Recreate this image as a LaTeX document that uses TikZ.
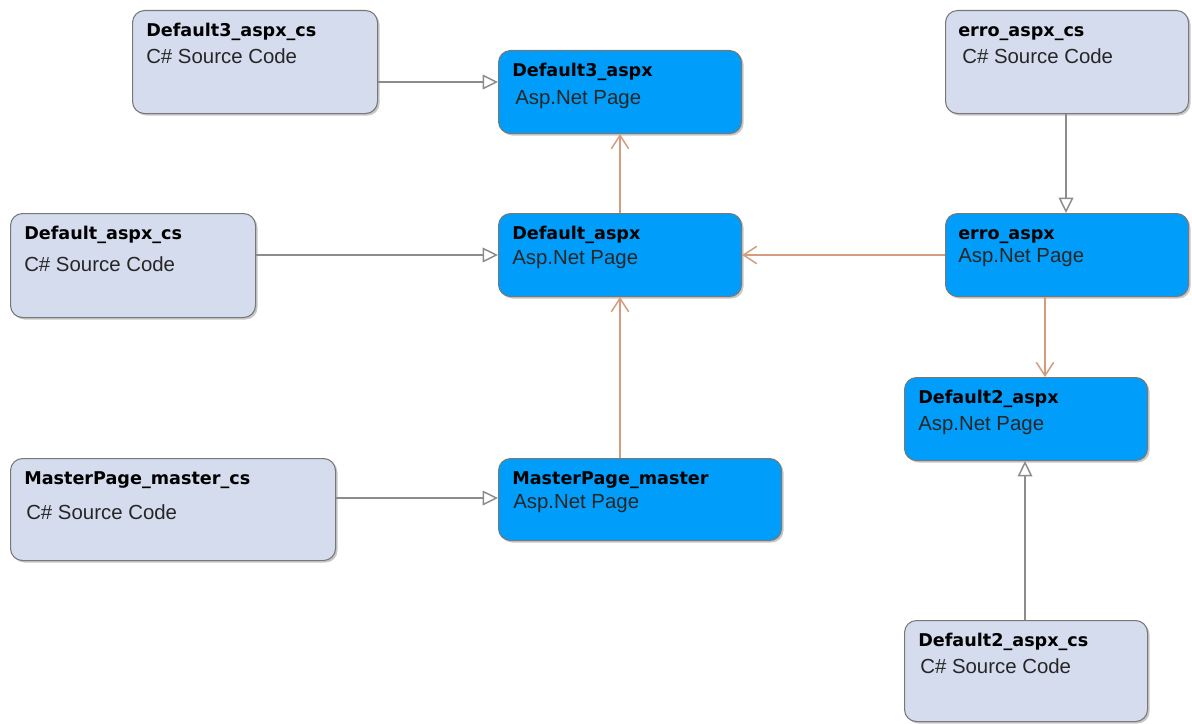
\documentclass[tikz,border=0pt]{standalone}
\usepackage{fontspec}
\setmainfont{Liberation Sans}
\newfontfamily\titlefont{DejaVu Sans}
\usetikzlibrary{arrows.meta,shadows,calc}
\definecolor{srcfill}{RGB}{212,220,238}
\definecolor{pagefill}{RGB}{0,158,250}
\definecolor{boxborder}{RGB}{120,120,120}
\definecolor{genline}{RGB}{140,140,140}
\definecolor{deplne}{RGB}{212,155,125}
\begin{document}
\begin{tikzpicture}[x=0.75pt,y=-0.75pt,
  box/.style={rounded corners=9pt, draw=boxborder, line width=0.8pt, inner sep=0pt, anchor=north west,
    drop shadow={shadow xshift=1.5pt, shadow yshift=-1.5pt, fill=black, opacity=0.22}},
  srcbox/.style={box, fill=srcfill},
  pagebox/.style={box, fill=pagefill},
  ttl/.style={anchor=base west, inner sep=0pt, font=\titlefont\bfseries\fontsize{13.2pt}{15pt}\selectfont, text=black},
  sub/.style={anchor=base west, inner sep=0pt, font=\fontsize{15.3pt}{18pt}\selectfont, text=black!85},
  gen/.style={draw=genline, line width=1.1pt, -{Triangle[open, length=11.5pt, width=11pt, fill=white]}},
  dep/.style={draw=deplne, line width=1.1pt, -{Straight Barb[length=10pt, width=13pt]}}
]
\fill[white] (0,0) rectangle (1192,724);
\useasboundingbox (0,0) rectangle (1192,724);

% source code boxes
\node[srcbox, minimum width=183.75pt, minimum height=77.25pt] (d3cs) at (132,10) {};
\node[ttl] (d3cst) at ($(d3cs.north west)+(14,27)$) {Default3\_aspx\_cs};
\node[sub] (d3css) at ($(d3cs.north west)+(14,54)$) {C\# Source Code};

\node[srcbox, minimum width=182.25pt, minimum height=77.25pt] (ecs) at (945,10) {};
\node[ttl] (ecst) at ($(ecs.north west)+(13,27)$) {erro\_aspx\_cs};
\node[sub] (ecss) at ($(ecs.north west)+(17,54)$) {C\# Source Code};

\node[srcbox, minimum width=183.75pt, minimum height=78pt] (dcs) at (10,213) {};
\node[ttl] (dcst) at ($(dcs.north west)+(14,26)$) {Default\_aspx\_cs};
\node[sub] (dcss) at ($(dcs.north west)+(14,58)$) {C\# Source Code};

\node[srcbox, minimum width=243.75pt, minimum height=76.5pt] (mcs) at (10,458) {};
\node[ttl] (mcst) at ($(mcs.north west)+(14,26)$) {MasterPage\_master\_cs};
\node[sub] (mcss) at ($(mcs.north west)+(16,61)$) {C\# Source Code};

\node[srcbox, minimum width=182.25pt, minimum height=75.75pt] (d2cs) at (904,620) {};
\node[ttl] (d2cst) at ($(d2cs.north west)+(14,26)$) {Default2\_aspx\_cs};
\node[sub] (d2css) at ($(d2cs.north west)+(16,53)$) {C\# Source Code};

% asp.net page boxes
\node[pagebox, minimum width=182.25pt, minimum height=62.25pt] (d3) at (498,50) {};
\node[ttl] (d3t) at ($(d3.north west)+(14,27)$) {Default3\_aspx};
\node[sub] (d3s) at ($(d3.north west)+(17,54)$) {Asp.Net Page};

\node[pagebox, minimum width=182.25pt, minimum height=62.25pt] (d) at (498,213) {};
\node[ttl] (dt) at ($(d.north west)+(14,26)$) {Default\_aspx};
\node[sub] (ds) at ($(d.north west)+(14,51)$) {Asp.Net Page};

\node[pagebox, minimum width=182.25pt, minimum height=62.25pt] (e) at (945,213) {};
\node[ttl] (et) at ($(e.north west)+(13,26)$) {erro\_aspx};
\node[sub] (es) at ($(e.north west)+(13,49)$) {Asp.Net Page};

\node[pagebox, minimum width=182.25pt, minimum height=62.25pt] (d2) at (904,377) {};
\node[ttl] (d2t) at ($(d2.north west)+(14,26)$) {Default2\_aspx};
\node[sub] (d2s) at ($(d2.north west)+(14,53)$) {Asp.Net Page};

\node[pagebox, minimum width=212.25pt, minimum height=61.5pt] (m) at (498,458) {};
\node[ttl] (mt) at ($(m.north west)+(14,26)$) {MasterPage\_master};
\node[sub] (ms) at ($(m.north west)+(15,50)$) {Asp.Net Page};

% generalization connectors
\draw[gen] ($(d3cs.north east)+(0,72)$) -- ($(d3.north west)+(0,32)$);
\draw[gen] ($(dcs.north east)+(0,42)$) -- ($(d.north west)+(0,42)$);
\draw[gen] ($(mcs.north east)+(0,40)$) -- ($(m.north west)+(0,40)$);
\draw[gen] ($(ecs.south west)+(121,0)$) -- ($(e.north west)+(121,0)$);
\draw[gen] ($(d2cs.north west)+(121,0)$) -- ($(d2.south west)+(121,0)$);

% dependency connectors
\draw[dep] ($(d.north west)+(122,0)$) -- ($(d3.south west)+(122,0)$);
\draw[dep] ($(m.north west)+(122,0)$) -- ($(d.south west)+(122,0)$);
\draw[dep] ($(e.north west)+(0,42)$) -- ($(d.north east)+(0,42)$);
\draw[dep] ($(e.south west)+(100,0)$) -- ($(d2.north west)+(141,0)$);
\end{tikzpicture}
\end{document}
